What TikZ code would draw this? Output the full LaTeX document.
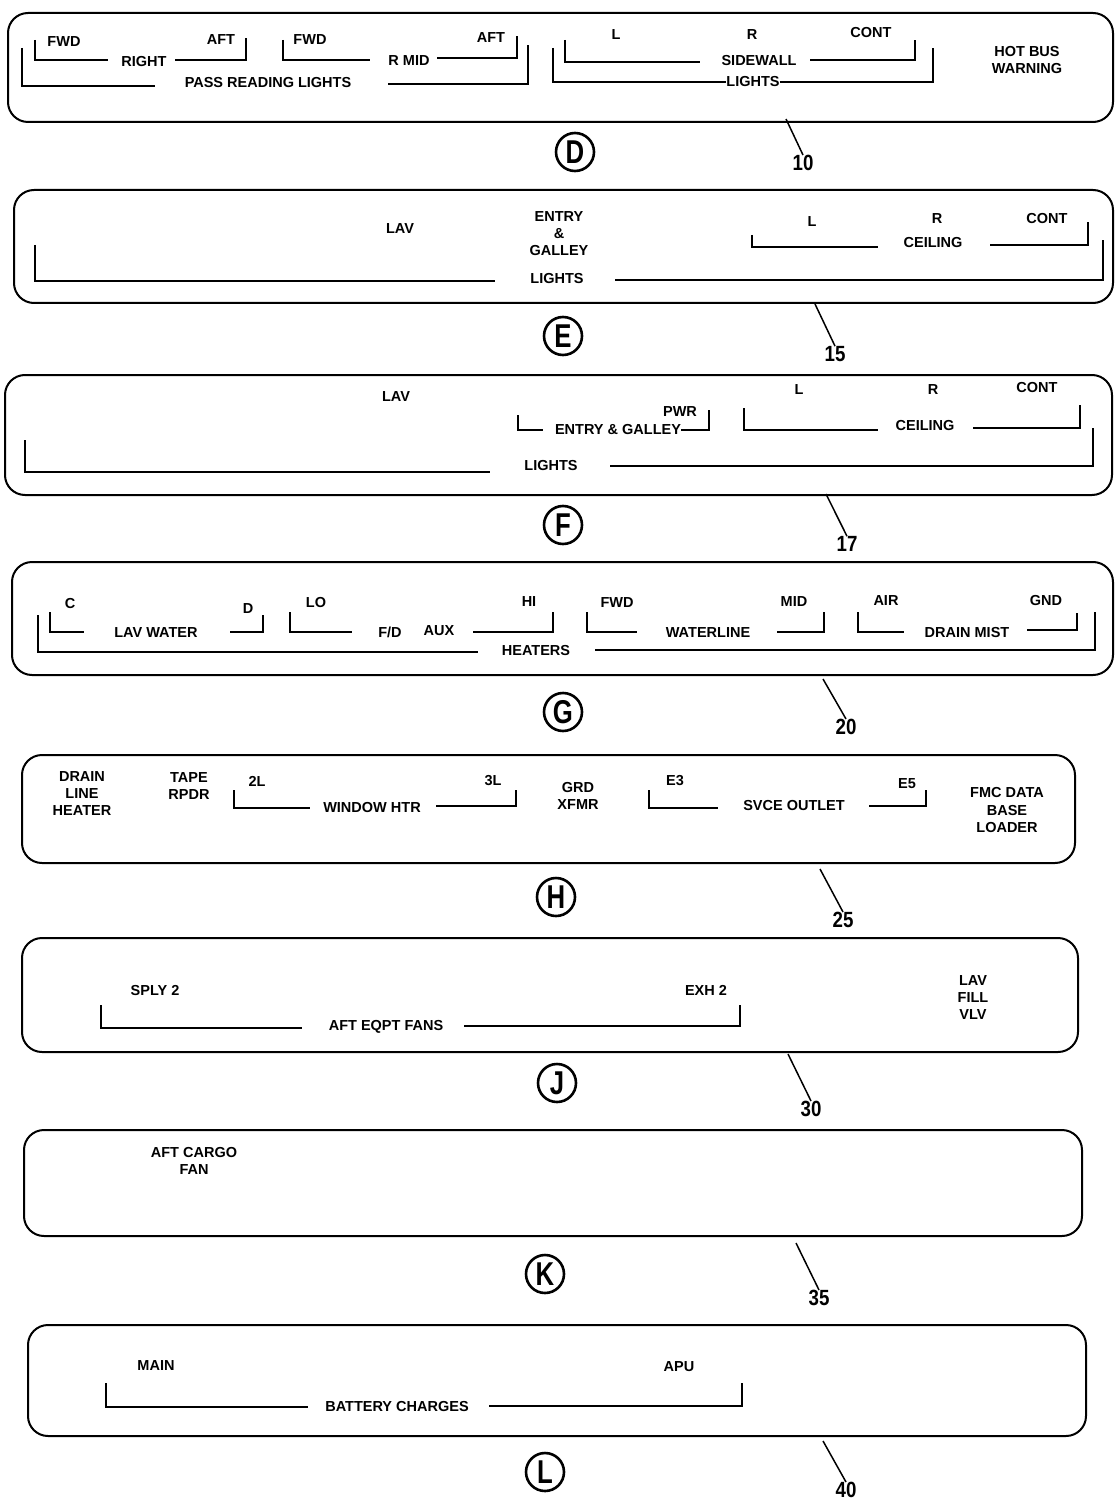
\documentclass[tikz,border=0pt]{standalone}
\usepackage{fontspec}
\setmainfont{Liberation Sans}
\newfontfamily\circfont[FakeStretch=0.78]{Liberation Sans}
\newfontfamily\numfont[FakeStretch=0.85]{Liberation Sans}
\begin{document}
\begin{tikzpicture}[x=1pt,y=-1pt,
  lbl/.style={font=\fontsize{14.5}{17}\selectfont\bfseries,inner sep=0pt,align=center},
  panel/.style={draw,line width=2pt,rounded corners=20pt},
  br/.style={line width=1.8pt},
  circ/.style={circle,draw,line width=2.6pt,minimum size=38pt,inner sep=0pt,font=\circfont\fontsize{33}{33}\selectfont\bfseries},
  num/.style={inner sep=0pt,font=\numfont\fontsize{22}{22}\selectfont\bfseries},
  lead/.style={line width=1.5pt}]
\useasboundingbox (0,0) rectangle (1114,1503);

% ---------------- Panel D ----------------
\draw[panel] (8,13) rectangle (1113,122);
\node[lbl] (d1) at (64,42) {FWD};
\node[lbl] (d2) at (144,62) {RIGHT};
\node[lbl] (d3) at (221,40) {AFT};
\node[lbl] (d4) at (310,40) {FWD};
\node[lbl] (d5) at (409,61) {R MID};
\node[lbl] (d6) at (491,38) {AFT};
\node[lbl] (d7) at (268,83) {PASS READING LIGHTS};
\node[lbl] (d8) at (616,35) {L};
\node[lbl] (d9) at (752,35) {R};
\node[lbl] (d10) at (871,33) {CONT};
\node[lbl] (d11) at (759,61) {SIDEWALL};
\node[lbl] (d12) at (753,82) {LIGHTS};
\node[lbl] (d13) at (1027,60) {HOT BUS\\WARNING};
\draw[br] (35,40) |- (108,60);  \draw[br] (175,60) -| (246,38);
\draw[br] (22,48) |- (155,86);  \draw[br] (388,84) -| (528,45);
\draw[br] (283,40) |- (370,60); \draw[br] (437,58) -| (517,36);
\draw[br] (565,40) |- (700,62); \draw[br] (810,60) -| (915,40);
\draw[br] (553,48) |- (d12.west); \draw[br] (d12.east) -| (933,48);
\node[circ] (cD) at (575,152) {D};
\node[num] (n10) at (803,163) {10};
\coordinate (tD) at (786,119);
\draw[lead] (tD) -- (n10.north);

% ---------------- Panel E ----------------
\draw[panel] (14,190) rectangle (1113,303);
\node[lbl] (e1) at (400,229) {LAV};
\node[lbl] (e2) at (559,234) {ENTRY\\\&\\GALLEY};
\node[lbl] (e3) at (557,279) {LIGHTS};
\node[lbl] (e4) at (812,222) {L};
\node[lbl] (e5) at (937,219) {R};
\node[lbl] (e6) at (1047,219) {CONT};
\node[lbl] (e7) at (933,243) {CEILING};
\draw[br] (35,245) |- (495,281);  \draw[br] (615,280) -| (1103,240);
\draw[br] (752,235) |- (878,247); \draw[br] (990,245) -| (1088,222);
\node[circ] (cE) at (563,336) {E};
\node[num] (n15) at (835,354) {15};
\coordinate (tE) at (815,304);
\draw[lead] (tE) -- (n15.north);

% ---------------- Panel F ----------------
\draw[panel] (5,375) rectangle (1112,495);
\node[lbl] (f1) at (396,397) {LAV};
\node[lbl] (f2) at (680,412) {PWR};
\node[lbl] (f3) at (618,430) {ENTRY \& GALLEY};
\node[lbl] (f4) at (799,390) {L};
\node[lbl] (f5) at (933,390) {R};
\node[lbl] (f6) at (1037,388) {CONT};
\node[lbl] (f7) at (925,426) {CEILING};
\node[lbl] (f8) at (551,466) {LIGHTS};
\draw[br] (518,415) |- (543,430); \draw[br] (f3.east) -| (709,410);
\draw[br] (744,408) |- (878,430); \draw[br] (973,428) -| (1080,405);
\draw[br] (25,440) |- (490,472);  \draw[br] (610,466) -| (1093,428);
\node[circ] (cF) at (563,525) {F};
\node[num] (n17) at (847,544) {17};
\coordinate (tF) at (826,494);
\draw[lead] (tF) -- (n17.north);

% ---------------- Panel G ----------------
\draw[panel] (12,562) rectangle (1113,675);
\node[lbl] (g1) at (70,604) {C};
\node[lbl] (g2) at (156,633) {LAV WATER};
\node[lbl] (g3) at (248,609) {D};
\node[lbl] (g4) at (316,603) {LO};
\node[lbl] (g5) at (390,632) {F/D};
\node[lbl] (g6) at (439,631) {AUX};
\node[lbl] (g7) at (529,602) {HI};
\node[lbl] (g8) at (617,603) {FWD};
\node[lbl] (g9) at (708,633) {WATERLINE};
\node[lbl] (g10) at (794,602) {MID};
\node[lbl] (g11) at (886,601) {AIR};
\node[lbl] (g12) at (967,633) {DRAIN MIST};
\node[lbl] (g13) at (1046,601) {GND};
\node[lbl] (g14) at (536,651) {HEATERS};
\draw[br] (50,612) |- (84,632);   \draw[br] (230,632) -| (263,615);
\draw[br] (290,612) |- (352,632); \draw[br] (473,632) -| (553,612);
\draw[br] (587,612) |- (637,632); \draw[br] (777,632) -| (824,612);
\draw[br] (858,612) |- (904,632); \draw[br] (1027,630) -| (1077,613);
\draw[br] (38,615) |- (478,652);  \draw[br] (595,650) -| (1095,612);
\node[circ] (cG) at (563,712) {G};
\node[num] (n20) at (846,727) {20};
\coordinate (tG) at (823,679);
\draw[lead] (tG) -- (n20.north);

% ---------------- Panel H ----------------
\draw[panel] (22,755) rectangle (1075,863);
\node[lbl] (h1) at (82,794) {DRAIN\\LINE\\HEATER};
\node[lbl] (h2) at (189,786) {TAPE\\RPDR};
\node[lbl] (h3) at (257,781) {2L};
\node[lbl] (h4) at (493,781) {3L};
\node[lbl] (h5) at (372,808) {WINDOW HTR};
\node[lbl] (h6) at (578,796) {GRD\\XFMR};
\node[lbl] (h7) at (675,781) {E3};
\node[lbl] (h8) at (907,784) {E5};
\node[lbl] (h9) at (794,806) {SVCE OUTLET};
\node[lbl] (h10) at (1007,810) {FMC DATA\\BASE\\LOADER};
\draw[br] (234,790) |- (310,808); \draw[br] (436,806) -| (516,790);
\draw[br] (649,790) |- (718,808); \draw[br] (869,806) -| (926,790);
\node[circ] (cH) at (556,897) {H};
\node[num] (n25) at (843,920) {25};
\coordinate (tH) at (820,869);
\draw[lead] (tH) -- (n25.north);

% ---------------- Panel J ----------------
\draw[panel] (22,938) rectangle (1078,1052);
\node[lbl] (j1) at (155,990) {SPLY 2};
\node[lbl] (j2) at (706,990) {EXH 2};
\node[lbl] (j3) at (386,1027) {AFT EQPT FANS};
\node[lbl] (j4) at (973,998) {LAV\\FILL\\VLV};
\draw[br] (101,1005) |- (302,1028); \draw[br] (464,1026) -| (740,1005);
\node[circ] (cJ) at (557,1083) {J};
\node[num] (n30) at (811,1109) {30};
\coordinate (tJ) at (788,1054);
\draw[lead] (tJ) -- (n30.north);

% ---------------- Panel K ----------------
\draw[panel] (24,1130) rectangle (1082,1236);
\node[lbl] (k1) at (194,1161) {AFT CARGO\\FAN};
\node[circ] (cK) at (545,1274) {K};
\node[num] (n35) at (819,1298) {35};
\coordinate (tK) at (796,1243);
\draw[lead] (tK) -- (n35.north);

% ---------------- Panel L ----------------
\draw[panel] (28,1325) rectangle (1086,1436);
\node[lbl] (l1) at (156,1365) {MAIN};
\node[lbl] (l2) at (679,1367) {APU};
\node[lbl] (l3) at (397,1406) {BATTERY CHARGES};
\draw[br] (106,1383) |- (308,1407); \draw[br] (489,1406) -| (742,1383);
\node[circ] (cL) at (545,1472) {L};
\node[num] (n40) at (846,1490) {40};
\coordinate (tL) at (823,1441);
\draw[lead] (tL) -- (n40.north);
\end{tikzpicture}
\end{document}
